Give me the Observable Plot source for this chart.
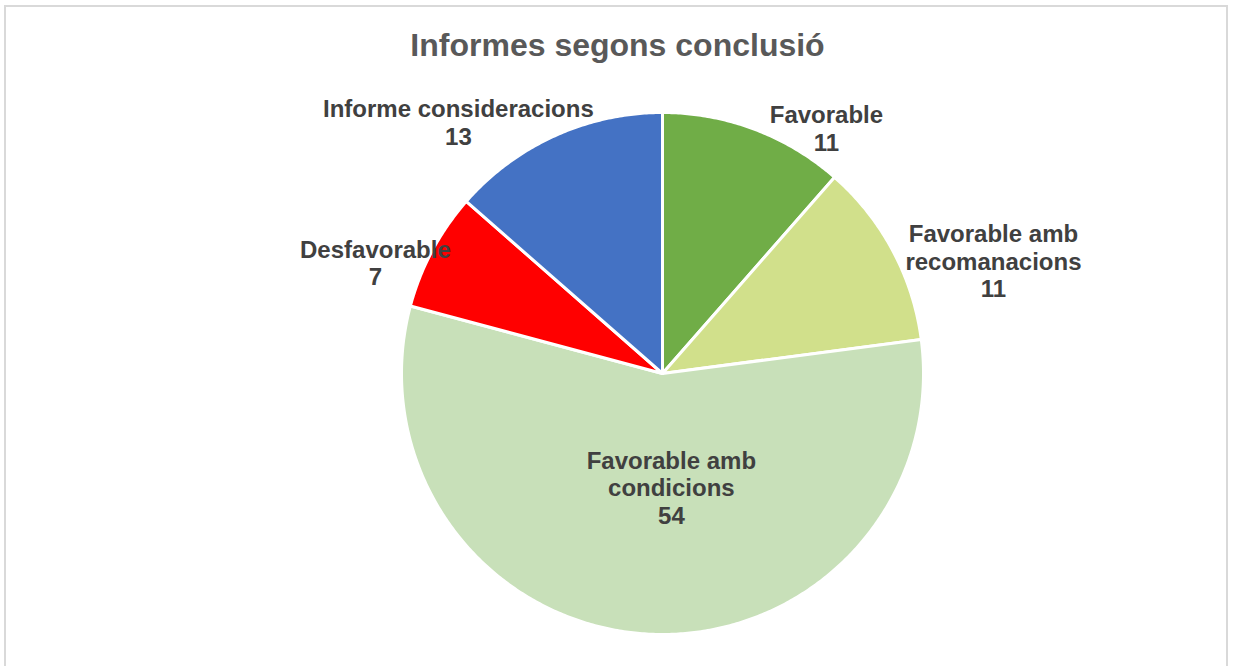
<!DOCTYPE html>
<html>
<head>
<meta charset="utf-8">
<script src="https://cdn.jsdelivr.net/npm/d3@7"></script>
<script src="https://cdn.jsdelivr.net/npm/@observablehq/plot@0.6"></script>
<style>
  html, body { margin: 0; padding: 0; background: #fff; }
  #wrap { position: relative; width: 1233px; height: 666px; overflow: hidden; }
  #border { position: absolute; left: 4px; top: 5px; width: 1224px; height: 700px;
            border: 2px solid #d9d9d9; box-sizing: border-box; pointer-events: none; }
  #title { position: absolute; left: 1px; width: 1233px; top: 29px; text-align: center;
           font-family: "Liberation Sans", Arial, sans-serif; font-weight: bold;
           font-size: 32px; color: #595959; line-height: 1; }
  #chart { position: absolute; left: 0; top: 0; }
</style>
</head>
<body>
<div id="wrap">
  <div id="chart"></div>
  <div id="border"></div>
  <div id="title">Informes segons conclusió</div>
</div>
<script>
// ---- data ----
const categories = ["Favorable", "Favorable amb recomanacions", "Favorable amb condicions", "Desfavorable", "Informe consideracions"];
const values = [11, 11, 54, 7, 13];
const labelTexts = ["Favorable", "Favorable amb\nrecomanacions", "Favorable amb\ncondicions", "Desfavorable", "Informe consideracions"];
const colors = ["#70AD47", "#D1E08B", "#C8E0B9", "#FF0000", "#4472C4"];
// label layout (in pie-radius units, relative to centre)
const labelX = [0.628, 1.268, 0.034, -1.100, -0.782];
const labelY = [0.941, 0.431, -0.437, 0.425, 0.962];

// ---- geometry via d3.pie ----
const pie = d3.pie().sort(null).value(d => d.value);
const arcs = pie(categories.map((c, i) => ({category: c, value: values[i]})));

const slicePts = [];
arcs.forEach(a => {
  const c = a.data.category;
  slicePts.push({category: c, x: 0, y: 0});
  const n = Math.max(2, Math.ceil((a.endAngle - a.startAngle) / (Math.PI / 360)));
  for (let k = 0; k <= n; k++) {
    const t = a.startAngle + (a.endAngle - a.startAngle) * k / n;
    slicePts.push({category: c, x: Math.sin(t), y: Math.cos(t)});
  }
  slicePts.push({category: c, x: 0, y: 0});
});

const labels = categories.map((c, i) => ({
  category: c,
  x: labelX[i],
  y: labelY[i],
  text: labelTexts[i] + "\n" + values[i]
}));

const chart = Plot.plot({
  width: 1233,
  height: 666,
  margin: 0,
  x: {domain: [-1, 1], range: [401, 923], axis: null},
  y: {domain: [-1, 1], range: [634, 112], axis: null},
  color: {domain: categories, range: colors},
  style: {background: "transparent"},
  marks: [
    Plot.line(slicePts, {
      x: "x", y: "y", z: "category",
      fill: "category", stroke: "#ffffff", strokeWidth: 3,
      strokeLinejoin: "round", curve: "linear"
    }),
    Plot.text(labels, {
      x: "x", y: "y", text: "text",
      fontFamily: "Liberation Sans, Arial, sans-serif",
      fontWeight: "bold", fontSize: 24, lineHeight: 1.15,
      fill: "#404040", textAnchor: "middle", lineAnchor: "middle"
    })
  ]
});
document.getElementById("chart").appendChild(chart);
</script>
</body>
</html>
